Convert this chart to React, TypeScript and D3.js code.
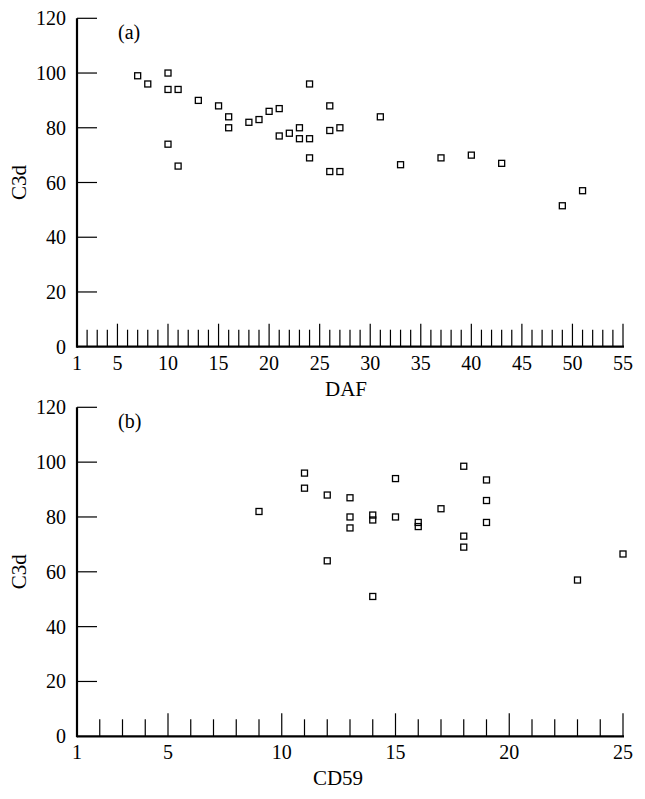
import React from "react";
import * as d3 from "d3";

// Panel (a): C3d vs DAF
const dafX = [7, 8, 10, 10, 11, 13, 15, 16, 16, 18, 19, 20, 21, 21, 22, 23, 23, 24, 24, 24, 10, 11, 26, 26, 27, 26, 27, 31, 33, 37, 40, 43, 51, 49];
const dafY = [99, 96, 100, 94, 94, 90, 88, 84, 80, 82, 83, 86, 87, 77, 78, 80, 76, 76, 96, 69, 74, 66, 88, 79, 80, 64, 64, 84, 66.5, 69, 70, 67, 57, 51.5];

// Panel (b): C3d vs CD59
const cdX = [9, 11, 11, 12, 12, 13, 13, 13, 14, 14, 14, 15, 15, 16, 16, 17, 18, 18, 18, 19, 19, 19, 23, 25];
const cdY = [82, 96, 90.5, 88, 64, 87, 80, 76, 80.7, 78.9, 51, 94, 80, 78, 76.5, 83, 98.5, 73, 69, 93.5, 86, 78, 57, 66.5];

const yTicks = [0, 20, 40, 60, 80, 100, 120];
const dafTickLabels = [1, 5, 10, 15, 20, 25, 30, 35, 40, 45, 50, 55];
const cdTickLabels = [1, 5, 10, 15, 20, 25];

const FONT = "'Liberation Serif', 'Times New Roman', serif";

type PanelProps = {
  xs: number[];
  ys: number[];
  xDomain: [number, number];
  xLabels: number[];
  top: number;
  bottom: number;
  title: string;
  tag: string;
  titleX: number;
  titleY: number;
};

function Panel({ xs, ys, xDomain, xLabels, top, bottom, title, tag, titleX, titleY }: PanelProps) {
  const left = 77;
  const right = 623;
  const x = d3.scaleLinear().domain(xDomain).range([left, right]);
  const y = d3.scaleLinear().domain([0, 120]).range([bottom, top]);
  const minor = d3.range(xDomain[0] + 1, xDomain[1] + 1);
  const s = 6;
  return (
    <g>
      {yTicks.map((t) => (
        <g key={"y" + t}>
          {t > 0 && <line x1={left} x2={left + 20} y1={y(t)} y2={y(t)} stroke="#000" strokeWidth={1.2} />}
          <text x={66} y={y(t) + 7} textAnchor="end" fontSize={20} fontFamily={FONT}>{t}</text>
        </g>
      ))}
      {minor.map((t) => (
        <line key={"m" + t} x1={x(t)} x2={x(t)} y1={bottom} y2={bottom - (t % 5 === 0 ? 23 : 17)} stroke="#000" strokeWidth={1.2} />
      ))}
      {xLabels.map((t) => (
        <text key={"xl" + t} x={x(t)} y={bottom + 23} textAnchor="middle" fontSize={20} fontFamily={FONT}>{t}</text>
      ))}
      <line x1={left} x2={left} y1={y(120)} y2={bottom + 1} stroke="#000" strokeWidth={2.2} />
      <line x1={left} x2={right + 1} y1={bottom} y2={bottom} stroke="#000" strokeWidth={2.2} />
      {xs.map((v, i) => (
        <rect key={"p" + i} x={x(v) - s / 2} y={y(ys[i]) - s / 2} width={s} height={s} fill="none" stroke="#000" strokeWidth={1.3} />
      ))}
      <text x={118} y={top + 21} fontSize={20} fontFamily={FONT}>{tag}</text>
      <text x={titleX} y={titleY} textAnchor="middle" fontSize={21} fontFamily={FONT}>{title}</text>
      <text transform={`translate(26, ${(top + bottom) / 2}) rotate(-90)`} textAnchor="middle" fontSize={21} fontFamily={FONT}>C3d</text>
    </g>
  );
}

export default function App() {
  return (
    <svg width={645} height={799} style={{ position: "absolute", left: 0, top: 0, background: "#fff" }}>
      <rect width={645} height={799} fill="#fff" />
      <Panel xs={dafX} ys={dafY} xDomain={[1, 55]} xLabels={dafTickLabels} top={18.3} bottom={346.7} title="DAF" tag="(a)" titleX={346} titleY={396} />
      <Panel xs={cdX} ys={cdY} xDomain={[1, 25]} xLabels={cdTickLabels} top={407.3} bottom={736.3} title="CD59" tag="(b)" titleX={338} titleY={785} />
    </svg>
  );
}
